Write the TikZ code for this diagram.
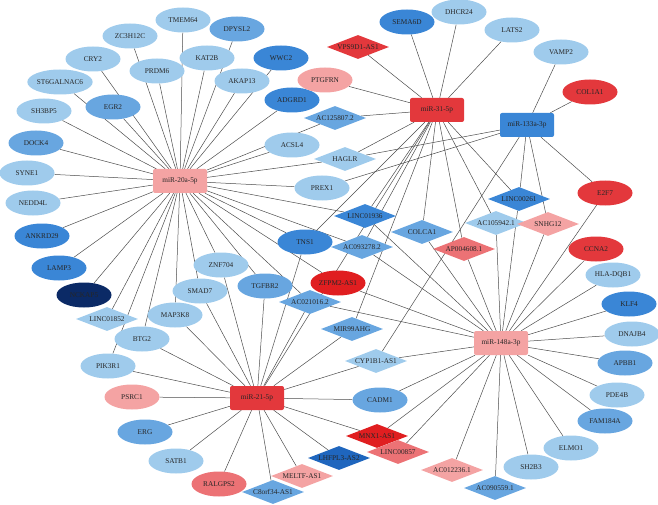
\documentclass[tikz,border=0pt]{standalone}
\usepackage{fontspec}
\setmainfont{Liberation Serif}
\usetikzlibrary{shapes.geometric,backgrounds}
\definecolor{cL}{HTML}{9FCBEC}
\definecolor{cM}{HTML}{68A6E0}
\definecolor{cD}{HTML}{3A86D6}
\definecolor{cDD}{HTML}{1F66BE}
\definecolor{cN}{HTML}{0B2A66}
\definecolor{cR}{HTML}{E3383C}
\definecolor{cRR}{HTML}{E01E20}
\definecolor{cP}{HTML}{F4A3A3}
\definecolor{cPR}{HTML}{EC7275}
\begin{document}
\begin{tikzpicture}[x=1pt,y=-1pt,
  every node/.style={font=\fontsize{7.3}{8}\selectfont,text=black!85},
  gene/.style={ellipse,fill=#1,minimum width=55pt,minimum height=25pt,inner sep=0pt},
  lnc/.style={diamond,fill=#1,aspect=2.7,minimum width=62pt,minimum height=24pt,inner sep=-3pt},
  hub/.style={rectangle,rounded corners=2pt,fill=#1,minimum width=54pt,minimum height=24pt},
  edge/.style={draw=black!70,line width=0.5pt}]
\useasboundingbox (0,0) rectangle (658,505);
% hubs
\node[hub=cP] (m20) at (180,181) {miR-20a-5p};
\node[hub=cR] (m31) at (437,110) {miR-31-5p};
\node[hub=cD] (m133) at (527,125) {miR-133a-3p};
\node[hub=cP] (m148) at (501,343) {miR-148a-3p};
\node[hub=cR] (m21) at (257,398) {miR-21-5p};
% genes
\foreach \n/\x/\y/\c in {TMEM64/183/20/cL,DPYSL2/237/29/cM,ZC3H12C/130/36/cL,CRY2/93/59/cL,KAT2B/207/58/cL,WWC2/281/58/cD,PRDM6/157/71/cL,AKAP13/242/81/cL,ST6GALNAC6/60/82/cL,EGR2/113/107/cM,ADGRD1/292/100/cD,SH3BP5/44/111/cL,DOCK4/36/143/cM,ACSL4/292/145/cL,SYNE1/27/173/cL,PREX1/322/188/cL,NEDD4L/33/203/cL,ANKRD29/42/236/cD,TNS1/305/242/cD,LAMP3/59/268/cD,ZNF704/221/265/cL,TGFBR2/265/286/cM,SMAD7/200/291/cL,NCKAP5/84/295/cN,ZFPM2-AS1/338/283/cRR,MAP3K8/175/315/cL,BTG2/142/339/cL,PIK3R1/108/366/cL,PSRC1/132/397/cP,ERG/145/432/cM,SATB1/176/461/cL,RALGPS2/219/484/cPR,CADM1/380/400/cM,SEMA6D/407/22/cD,DHCR24/459/12/cL,LATS2/512/30/cL,VAMP2/561/52/cL,COL1A1/590/92/cR,E2F7/605/193/cR,CCNA2/596/249/cR,HLA-DQB1/613/275/cL,KLF4/629/304/cD,DNAJB4/632/334/cL,APBB1/625/363/cM,PDE4B/617/395/cL,FAM184A/605/421/cM,ELMO1/571/448/cL,SH2B3/531/467/cL,PTGFRN/325/80/cP}
  \node[gene=\c] (\n) at (\x,\y) {\n};
% lncRNAs
\foreach \n/\l/\x/\y/\c in {VPS9D1-AS1/VPS9D1-AS1/358/47/cR,AC1258072/AC125807.2/335/118/cM,HAGLR/HAGLR/345/159/cL,LINC01936/LINC01936/365/216/cD,COLCA1/COLCA1/422/232/cM,AC0932782/AC093278.2/362/247/cM,AP0046081/AP004608.1/464/249/cPR,AC1059421/AC105942.1/496/223/cL,LINC00261/LINC00261/519/199/cD,SNHG12/SNHG12/548/224/cP,AC0210162/AC021016.2/310/302/cM,MIR99AHG/MIR99AHG/352/329/cM,LINC01852/LINC01852/107/319/cL,CYP1B1-AS1/CYP1B1-AS1/376/361/cL,MNX1-AS1/MNX1-AS1/377/436/cRR,LINC00857/LINC00857/398/452/cPR,AC0122361/AC012236.1/452/470/cP,AC0905591/AC090559.1/495/488/cM,LHFPL3-AS2/LHFPL3-AS2/339/458/cDD,MELTF-AS1/MELTF-AS1/302/476/cP,C8orf34-AS1/C8orf34-AS1/273/492/cM}
  \node[lnc=\c] (\n) at (\x,\y) {\l};
\begin{scope}[on background layer]
\foreach \t in {TMEM64,DPYSL2,ZC3H12C,CRY2,KAT2B,WWC2,PRDM6,AKAP13,ST6GALNAC6,EGR2,ADGRD1,SH3BP5,DOCK4,SYNE1,NEDD4L,ANKRD29,LAMP3,NCKAP5,LINC01852,BTG2,PIK3R1,MAP3K8,SMAD7,ZNF704,TGFBR2,TNS1,ACSL4,HAGLR,PREX1,AC1258072,LINC01936,AC0932782,ZFPM2-AS1,AC0210162}
  \draw[edge] (m20) -- (\t);
\foreach \t in {PIK3R1,BTG2,MAP3K8,SMAD7,ZNF704,TGFBR2,TNS1,AC0210162,MIR99AHG,CYP1B1-AS1,CADM1,MNX1-AS1,LHFPL3-AS2,MELTF-AS1,C8orf34-AS1,RALGPS2,SATB1,ERG,PSRC1}
  \draw[edge] (m21) -- (\t);
\foreach \t in {VPS9D1-AS1,SEMA6D,DHCR24,LATS2,PTGFRN,AC1258072,HAGLR,TNS1,LINC01936,COLCA1,AC0932782,AP0046081,AC1059421,LINC00261,MIR99AHG,m21}
  \draw[edge] (m31) -- (\t);
\foreach \t in {VAMP2,COL1A1,HAGLR,PREX1,E2F7,SNHG12,CYP1B1-AS1,LINC00261}
  \draw[edge] (m133) -- (\t);
\foreach \t in {CCNA2,HLA-DQB1,KLF4,DNAJB4,APBB1,PDE4B,FAM184A,ELMO1,SH2B3,AC0905591,AC0122361,LINC00857,MNX1-AS1,CADM1,CYP1B1-AS1,AC0210162,ZFPM2-AS1,AC0932782,LINC01936,COLCA1,AP0046081,AC1059421,LINC00261,SNHG12,E2F7}
  \draw[edge] (m148) -- (\t);
\end{scope}
\end{tikzpicture}
\end{document}
